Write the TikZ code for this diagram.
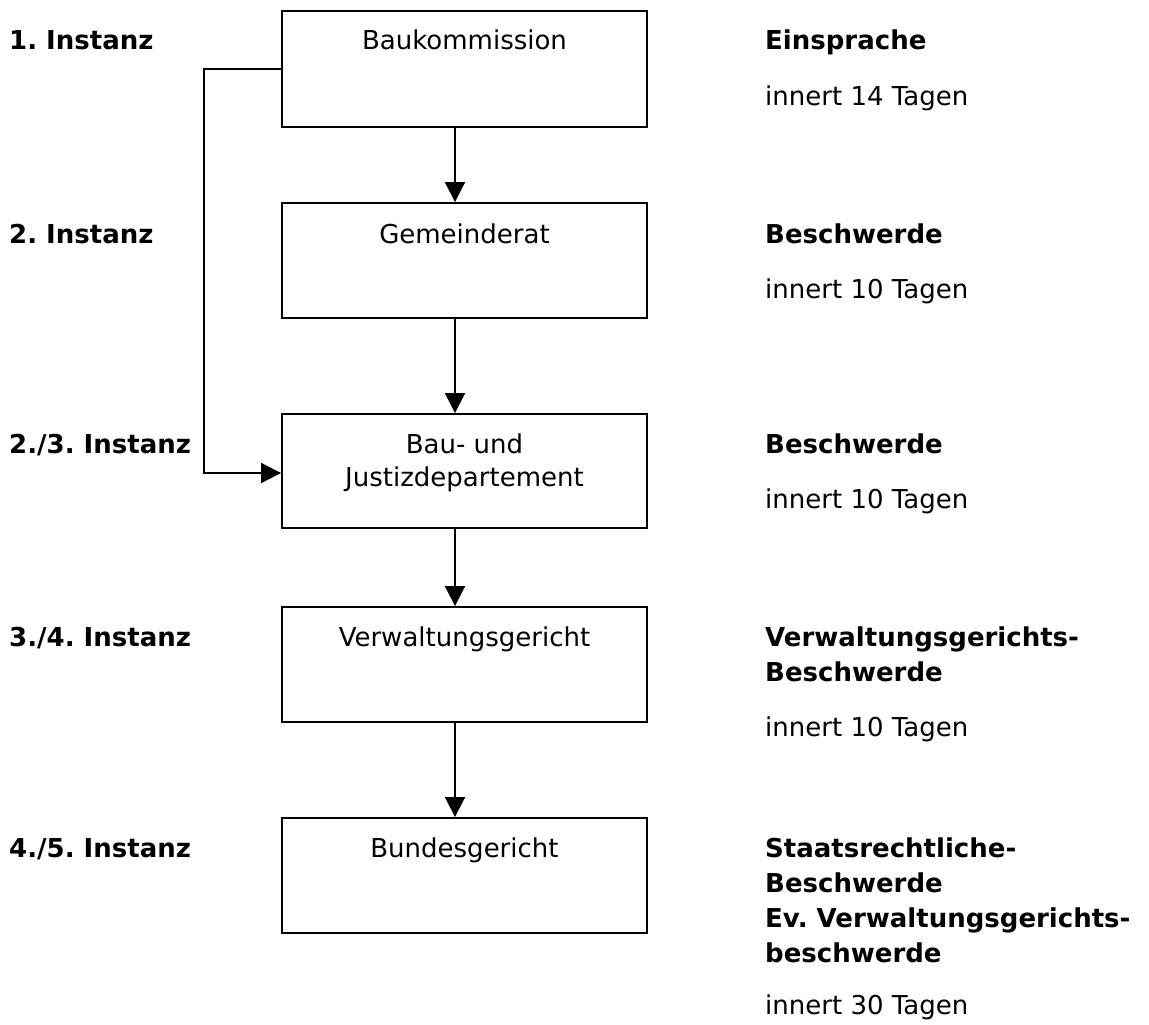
\documentclass[tikz,border=0pt]{standalone}
\usepackage{fontspec}
\setmainfont{DejaVu Sans}
\usetikzlibrary{arrows.meta}
\frenchspacing
\newcommand\lblock[1]{\begin{tabular}[t]{@{}l@{}}#1\end{tabular}}
\newcommand\cblock[1]{\begin{tabular}[t]{@{}c@{}}#1\end{tabular}}
\begin{document}
\begin{tikzpicture}[x=1pt,y=-1pt,
  box/.style={draw, line width=1.9pt, minimum width=365pt, inner sep=0pt},
  lab/.style={anchor=base west, inner sep=0pt, font=\fontsize{26}{35}\selectfont\bfseries},
  note/.style={anchor=base west, inner sep=0pt, font=\fontsize{26}{35}\selectfont},
  btxt/.style={anchor=base, inner sep=0pt, font=\fontsize{26}{33}\selectfont},
  arr/.style={line width=1.9pt, -{Triangle[length=20pt,width=20pt]}}]
\useasboundingbox (0,0) rectangle (1149,1025);

% boxes
\node[box, minimum height=116pt] (b1) at (464.5,69) {};
\node[box, minimum height=115pt] (b2) at (464.5,260.5) {};
\node[box, minimum height=114pt] (b3) at (464.5,471) {};
\node[box, minimum height=115pt] (b4) at (464.5,664.5) {};
\node[box, minimum height=115pt] (b5) at (464.5,875.5) {};

% box texts
\node[btxt] (t1) at (464.5,50) {Baukommission};
\node[btxt] (t2) at (464.5,243) {Gemeinderat};
\node[btxt] (t3) at (464.5,453) {\cblock{Bau- und\\Justizdepartement}};
\node[btxt] (t4) at (464.5,646) {Verwaltungsgericht};
\node[btxt] (t5) at (464.5,857) {Bundesgericht};

% left labels
\node[lab] (l1) at (9,50) {1. Instanz};
\node[lab] (l2) at (9,243) {2. Instanz};
\node[lab] (l3) at (9,453) {2./3. Instanz};
\node[lab] (l4) at (9,646) {3./4. Instanz};
\node[lab] (l5) at (9,857) {4./5. Instanz};

% right labels
\node[lab] (r1) at (765,50) {Einsprache};
\node[note] (n1) at (765,105) {innert 14 Tagen};
\node[lab] (r2) at (765,243) {Beschwerde};
\node[note] (n2) at (765,298) {innert 10 Tagen};
\node[lab] (r3) at (765,453) {Beschwerde};
\node[note] (n3) at (765,508) {innert 10 Tagen};
\node[lab] (r4) at (765,646) {\lblock{Verwaltungsgerichts-\\Beschwerde}};
\node[note] (n4) at (765,736) {innert 10 Tagen};
\node[lab] (r5) at (765,857) {\lblock{Staatsrechtliche-\\Beschwerde\\Ev. Verwaltungsgerichts-\\beschwerde}};
\node[note] (n5) at (765,1014) {innert 30 Tagen};

% connectors
\draw[arr] ([xshift=-9.5pt]b1.south) -- ([xshift=-9.5pt]b2.north);
\draw[arr] ([xshift=-9.5pt]b2.south) -- ([xshift=-9.5pt]b3.north);
\draw[arr] ([xshift=-9.5pt]b3.south) -- ([xshift=-9.5pt]b4.north);
\draw[arr] ([xshift=-9.5pt]b4.south) -- ([xshift=-9.5pt]b5.north);
\draw[arr, line join=miter] (b1.west) -- ++(-77,0) |- ([yshift=-2pt]b3.west);
\end{tikzpicture}
\end{document}
